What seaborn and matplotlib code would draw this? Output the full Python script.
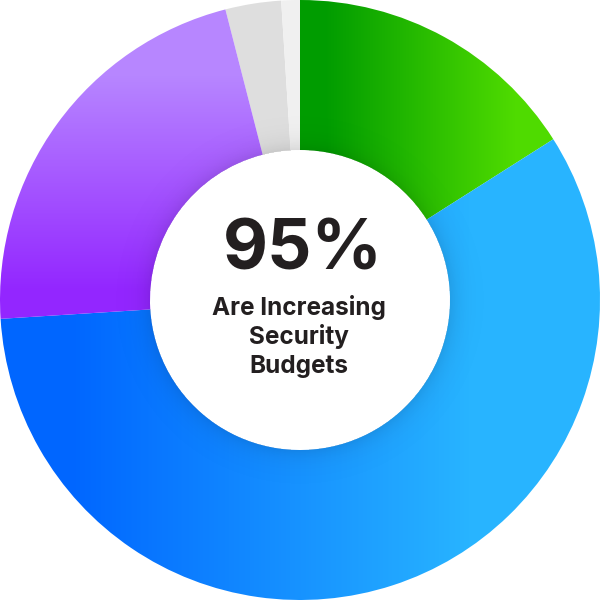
import numpy as np
import matplotlib
matplotlib.use("Agg")
import matplotlib.pyplot as plt
import seaborn as sns

# === DATA ===
segments = ["Increase (large)", "Increase (moderate)", "Increase (small)", "No change", "Decrease"]
shares = [16, 58, 22, 3, 1]
headline = "95%"
caption = "Are Increasing\nSecurity\nBudgets"

# === STYLE ===
sns.set_theme(style="white")
plt.rcParams["font.family"] = ["Inter", "DejaVu Sans"]
TEXT = "#231f20"

# gradient per segment: (start colour, end colour, axis, start, end) in data units
fills = {
    "Increase (large)": ("#009c00", "#4fdb00", "x", 0.08, 0.72),
    "Increase (moderate)": ("#0066ff", "#28b4ff", "x", -0.77, 0.57),
    "Increase (small)": ("#9326ff", "#b786ff", "y", 0.03, 0.75),
    "No change": "#dedede",
    "Decrease": "#f0f0f0",
}

fig = plt.figure(figsize=(6, 6), dpi=100)
ax = fig.add_axes([0, 0, 1, 1])

wedges, _ = ax.pie(shares, startangle=90, counterclock=False, radius=1,
                   wedgeprops=dict(width=0.5, linewidth=0))

grid = np.linspace(-1, 1, 600)
X, Y = np.meshgrid(grid, grid)

for name, w in zip(segments, wedges):
    spec = fills[name]
    if isinstance(spec, str):
        w.set_facecolor(spec)
        continue
    c0, c1, axis, a, b = spec
    cmap = sns.blend_palette([c0, c1], as_cmap=True)
    coord = X if axis == "x" else Y
    t = np.clip((coord - a) / (b - a), 0, 1)
    w.set_facecolor("none")
    im = ax.imshow(cmap(t), extent=(-1, 1, -1, 1), origin="lower",
                   interpolation="bilinear", zorder=1)
    im.set_clip_path(w)

# soft shadow round the hole
R = np.sqrt(X ** 2 + Y ** 2)
shade = np.zeros(X.shape + (4,))
shade[..., 3] = np.where(R >= 0.5, 0.10 * np.exp(-(R - 0.5) / 0.035), 0)
im = ax.imshow(shade, extent=(-1, 1, -1, 1), origin="lower", zorder=2)
im.set_clip_path(plt.Circle((0, 0), 1.0, transform=ax.transData))

ax.text(0.01, 0.10, headline, ha="center", va="baseline", fontsize=50,
        fontweight="bold", color=TEXT, zorder=3)
for i, line in enumerate(caption.split("\n")):
    ax.text(-0.005, -0.05 - i * 0.097, line, ha="center", va="baseline",
            fontsize=17.5, fontweight="bold", color=TEXT, zorder=3)

ax.set_xlim(-1, 1)
ax.set_ylim(-1, 1)
ax.set_aspect("equal")
ax.axis("off")

fig.savefig("out.png", dpi=100)
